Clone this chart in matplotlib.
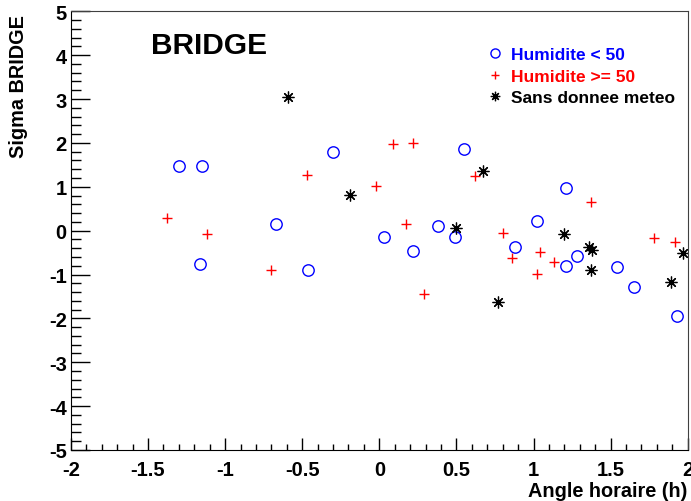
import matplotlib.pyplot as plt
from matplotlib.ticker import MultipleLocator

plt.rcParams['font.family'] = ['Liberation Sans', 'DejaVu Sans']
plt.rcParams['font.weight'] = 'bold'

# Humidite < 50
x_low = [-1.30, -1.15, -1.16, -0.67, -0.46, -0.30, 0.03, 0.22, 0.38, 0.49,
         0.55, 0.88, 1.02, 1.21, 1.21, 1.28, 1.54, 1.65, 1.93]
y_low = [1.47, 1.47, -0.77, 0.15, -0.90, 1.79, -0.14, -0.46, 0.10, -0.14,
         1.87, -0.38, 0.21, 0.97, -0.80, -0.57, -0.84, -1.28, -1.94]

# Humidite >= 50
x_high = [-1.38, -1.12, -0.70, -0.47, -0.02, 0.09, 0.22, 0.17, 0.29, 0.62,
          0.80, 0.86, 1.02, 1.04, 1.13, 1.37, 1.78, 1.92]
y_high = [0.29, -0.08, -0.90, 1.26, 1.01, 1.97, 1.99, 0.15, -1.44, 1.25,
          -0.05, -0.63, -0.99, -0.48, -0.71, 0.65, -0.16, -0.26]

# Sans donnee meteo
x_none = [-0.59, -0.19, 0.67, 0.50, 0.77, 1.20, 1.36, 1.38, 1.37, 1.89, 1.97]
y_none = [3.05, 0.82, 1.35, 0.06, -1.63, -0.07, -0.38, -0.43, -0.90, -1.18, -0.51]

labels = ["Humidite < 50", "Humidite >= 50", "Sans donnee meteo"]

fig = plt.figure(figsize=(6.91, 5.02), dpi=100)
ax = fig.add_axes([0.1027, 0.1016, 0.8925, 0.8739])

star = (8, 2, 0)
ax.plot(x_low, y_low, 'o', ls='none', mfc='none', mec='#0000ff', ms=8.2, mew=1.0, label=labels[0])
ax.plot(x_high, y_high, '+', ls='none', color='#ff0000', ms=7.5, mew=1.0, label=labels[1])
ax.plot(x_none, y_none, marker=star, ls='none', color='k', ms=8.5, mew=0.9, label=labels[2])

ax.set_xlim(-2, 2)
ax.set_ylim(-5, 5)
ax.xaxis.set_major_locator(MultipleLocator(0.5))
ax.xaxis.set_minor_locator(MultipleLocator(0.1))
ax.yaxis.set_major_locator(MultipleLocator(1))
ax.yaxis.set_minor_locator(MultipleLocator(0.2))
ax.xaxis.set_major_formatter(plt.FuncFormatter(lambda v, p: '%g' % v))
ax.yaxis.set_major_formatter(plt.FuncFormatter(lambda v, p: '%g' % v))

ax.tick_params(axis='x', which='major', direction='in', length=9, width=1, labelsize=14.5, pad=7.5)
ax.tick_params(axis='x', which='minor', direction='in', length=4.3, width=1)
ax.tick_params(axis='y', which='major', direction='in', length=13.5, width=1, labelsize=14.5, pad=3)
ax.tick_params(axis='y', which='minor', direction='in', length=7, width=1)
for s in ['top', 'right']:
    ax.spines[s].set_color('#404040')

ax.set_ylabel("Sigma BRIDGE", fontsize=14.3, fontweight='bold')
ax.yaxis.set_label_coords(-0.0697, 0.994)
ax.yaxis.label.set_horizontalalignment('right')
ax.set_xlabel("Angle horaire (h)", fontsize=14.3, fontweight='bold')
ax.xaxis.set_label_coords(1.0, -0.106)
ax.xaxis.label.set_horizontalalignment('right')
ax.xaxis.label.set_verticalalignment('baseline')

ax.text(0.1297, 0.904, "BRIDGE", transform=ax.transAxes, fontsize=21.5, fontweight='bold',
        ha='left', va='baseline')

leg = ax.legend(loc='upper left', bbox_to_anchor=(0.673, 0.918), frameon=False,
                fontsize=12.5, handletextpad=0.46, labelspacing=0.36, handlelength=1.0,
                borderaxespad=0, borderpad=0, markerscale=0.8)
for t, c in zip(leg.get_texts(), ['#0000ff', '#ff0000', 'k']):
    t.set_color(c)

fig.savefig("out.png", dpi=100)
